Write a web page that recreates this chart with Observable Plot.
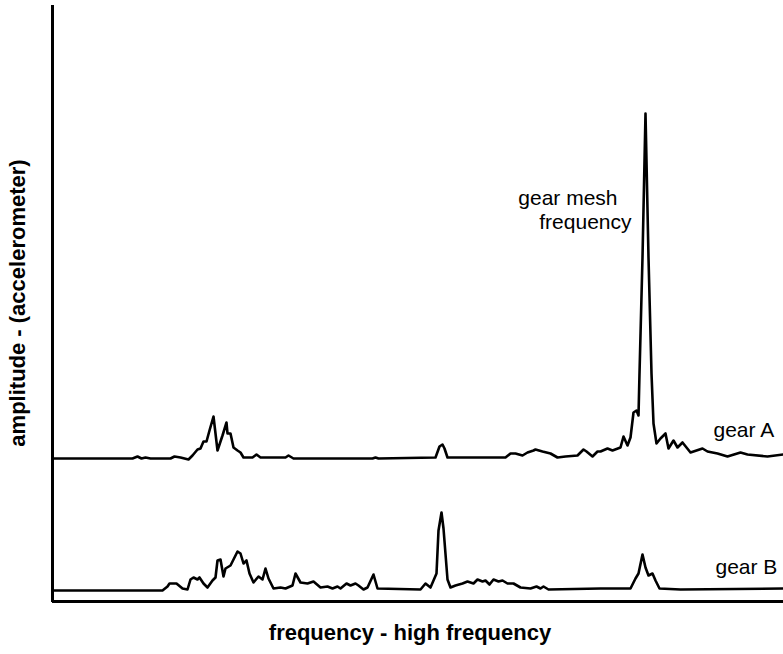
<!DOCTYPE html>
<html>
<head>
<meta charset="utf-8">
<script src="https://cdn.jsdelivr.net/npm/d3@7"></script>
<script src="https://cdn.jsdelivr.net/npm/@observablehq/plot@0.6"></script>
<style>
  html, body { margin: 0; padding: 0; background: #fff; }
  #chart svg { display: block; }
</style>
</head>
<body>
<div id="chart"></div>
<script>
// frequency (arbitrary units) and amplitude (arbitrary units, including trace offset)
const gearAFreq = [0,80,85,89,93,98,118,122,128,136,140,145,148,151,154,157,161,165,170,174,175,178,181,185,188,191,200,204,208,233,236,241,320,323,326,383,387,390,392,395,453,458,463,470,475,481,483,490,498,505,513,525,531,534,540,545,548,555,560,568,571,575,578,581,584,586,587,590,593,596,599,601,604,608,613,616,621,625,630,638,650,655,665,675,688,695,715,731];
const gearAAmp  = [142,142,144,142,143,142,142,144,143,141,145,151,152,159,159,170,184,150,165,178,167,167,153,150,148,143,143,146,143,143,145,142,142,143,142,143,154,156,152,143,143,147,147,145,148,150,151,149,147,143,144,145,151,149,144,149,149,152,150,153,164,155,163,188,190,185,227,343,487,343,227,177,157,162,167,152,160,153,158,148,152,149,147,144,148,146,144,146];

const gearBFreq = [0,110,115,117,121,124,130,135,138,141,145,147,151,155,160,163,165,168,171,173,178,185,188,191,194,197,201,206,210,213,216,221,228,233,240,243,248,255,261,268,275,280,285,288,294,298,303,306,311,315,321,325,368,373,378,384,386,389,391,395,398,403,410,415,421,425,430,433,437,441,446,450,455,461,468,478,484,488,491,496,548,578,583,586,590,593,596,600,603,607,628,731];
const gearBAmp  = [10,10,14,17,17,17,12,11,21,23,21,23,17,13,20,23,40,41,24,32,35,49,47,37,40,27,18,24,21,32,22,12,13,12,15,27,18,17,19,13,14,12,14,12,17,15,17,15,11,13,26,12,11,17,13,27,70,88,72,21,13,15,17,19,17,21,19,20,16,21,19,20,17,17,13,12,14,12,14,11,12,12,22,27,46,33,25,27,20,12,11,12];

const seriesLabels = ["gear A", "gear B"];
const peakLabel = ["gear mesh", "frequency"];
const xLabel = "frequency - high frequency";
const yLabel = "amplitude - (accelerometer)";

const gearA = gearAFreq.map((f, i) => ({f, a: gearAAmp[i]}));
const gearB = gearBFreq.map((f, i) => ({f, a: gearBAmp[i]}));

const font = "'Liberation Sans', Arial, Helvetica, sans-serif";

const chart = Plot.plot({
  width: 783,
  height: 654,
  marginLeft: 52,
  marginRight: 0,
  marginTop: 5,
  marginBottom: 54,
  style: {fontFamily: font, background: "#fff", color: "#000"},
  x: {domain: [0, 731], axis: null},
  y: {domain: [0, 595], axis: null},
  marks: [
    Plot.line(gearA, {x: "f", y: "a", stroke: "#000", strokeWidth: 2.6, strokeLinejoin: "round"}),
    Plot.line(gearB, {x: "f", y: "a", stroke: "#000", strokeWidth: 2.6, strokeLinejoin: "round"}),
    Plot.ruleX([0], {y1: -2, y2: 595, stroke: "#000", strokeWidth: 3}),
    Plot.ruleY([-1], {stroke: "#000", strokeWidth: 3}),
    Plot.text([
      {t: seriesLabels[0], f: 661, a: 170},
      {t: seriesLabels[1], f: 663, a: 33}
    ], {x: "f", y: "a", text: "t", textAnchor: "start", fontSize: 21, fill: "#000"}),
    Plot.text([
      {t: peakLabel[0], f: 565, a: 402},
      {t: peakLabel[1], f: 579, a: 378}
    ], {x: "f", y: "a", text: "t", textAnchor: "end", fontSize: 21, fill: "#000"}),
    Plot.text([xLabel], {frameAnchor: "bottom", textAnchor: "middle", lineAnchor: "middle", dx: -8, dy: 32, fontSize: 22, fontWeight: "bold", fill: "#000"}),
    Plot.text([yLabel], {frameAnchor: "left", textAnchor: "middle", dx: -35, rotate: -90, fontSize: 22, fontWeight: "bold", letterSpacing: 1, fill: "#000"})
  ]
});

document.getElementById("chart").appendChild(chart);
</script>
</body>
</html>
